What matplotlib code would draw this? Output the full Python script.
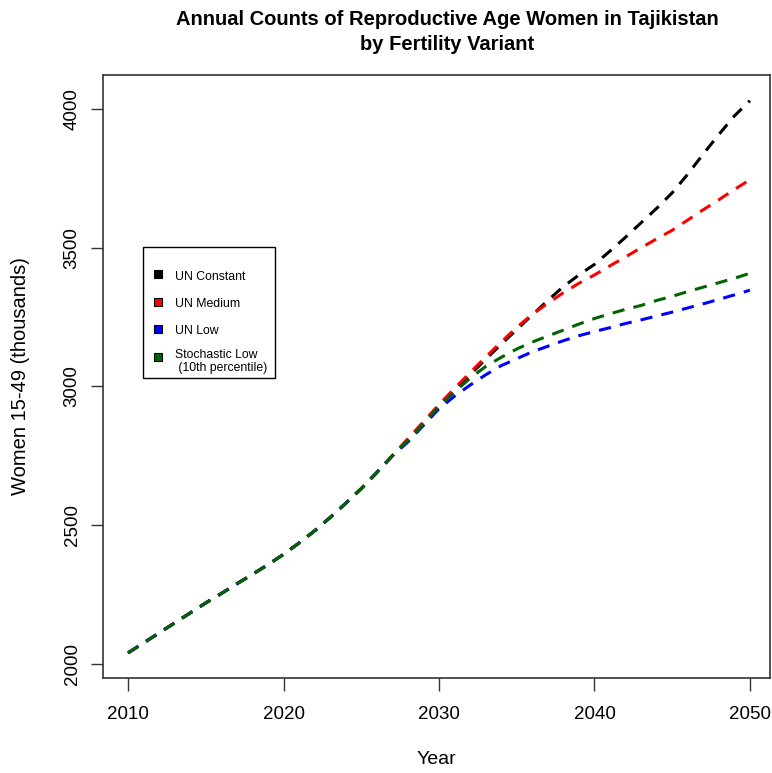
import matplotlib
matplotlib.use("Agg")
import matplotlib.pyplot as plt
from matplotlib.patches import Rectangle
import numpy as np

plt.rcParams['font.family'] = ['Liberation Sans', 'DejaVu Sans']

years = np.arange(2010, 2051)

# shared path 2010-2027
base = [2040, 2076, 2112, 2148, 2184, 2220, 2254, 2289, 2323, 2358,
        2395, 2436, 2480, 2528, 2579, 2632, 2690, 2750]

un_constant = base + [2808, 2868, 2928, 2985, 3042, 3098, 3152, 3205, 3258, 3310,
                      3360, 3402, 3440, 3488, 3538, 3590, 3642, 3698, 3765, 3838,
                      3908, 3975, 4030]
un_medium = base + [2812, 2873, 2935, 2993, 3050, 3106, 3160, 3213, 3260, 3300,
                    3338, 3372, 3402, 3435, 3467, 3500, 3532, 3563, 3600, 3637,
                    3673, 3710, 3745]
un_low = base + [2800, 2860, 2920, 2965, 3005, 3042, 3075, 3100, 3125, 3145,
                 3165, 3183, 3198, 3212, 3227, 3240, 3254, 3268, 3283, 3298,
                 3314, 3330, 3347]
stoch_low = base + [2805, 2866, 2928, 2980, 3030, 3072, 3105, 3135, 3160, 3182,
                    3203, 3225, 3245, 3262, 3278, 3292, 3310, 3325, 3342, 3358,
                    3374, 3390, 3408]

series = [un_constant, un_medium, un_low, stoch_low]
labels = ["UN Constant", "UN Medium", "UN Low", "Stochastic Low\n (10th percentile)"]
colors = ["black", "red", "blue", "darkgreen"]

W, H = 772, 773
AX_L, AX_R, AX_T, AX_B = 103, 770, 75, 678

fig = plt.figure(figsize=(W/100, H/100), dpi=100)
ax = fig.add_axes([AX_L/W, 1 - AX_B/H, (AX_R - AX_L)/W, (AX_B - AX_T)/H])

def afrac(px, py):
    # pixel position (from top-left of image) -> axes fraction
    return (px - AX_L)/(AX_R - AX_L), (AX_B - py)/(AX_B - AX_T)

for y, c in zip(series, colors):
    ax.plot(years, y, color=c, lw=2.2, dashes=(4, 3))

ax.set_xlim(2008.39, 2051.29)
ax.set_ylim(1949.5, 4122.5)
ax.set_xticks([2010, 2020, 2030, 2040, 2050])
ax.set_yticks([2000, 2500, 3000, 3500, 4000])
ax.tick_params(direction='out', length=9, width=1, labelsize=13.5, color='#333333')
ax.tick_params(axis='x', pad=11)
ax.tick_params(axis='y', pad=7)
for lab in ax.get_yticklabels():
    lab.set_rotation(90)
    lab.set_va('center')
for s in ax.spines.values():
    s.set_linewidth(1.2)
    s.set_color('#333333')

ax.set_xlabel("Year", fontsize=14)
ax.set_ylabel("Women 15-49 (thousands)", fontsize=14.5)
ax.xaxis.set_label_coords(*afrac(436, 760))
ax.yaxis.set_label_coords(*afrac(21, 376))
ax.xaxis.label.set_va('center')
ax.yaxis.label.set_va('center')

fig.text(447/W, 1 - 10/H, "Annual Counts of Reproductive Age Women in Tajikistan\nby Fertility Variant",
         ha='center', va='top', fontsize=14.5, fontweight='bold', linespacing=1.4)

# legend box, drawn by hand to match the base-R layout
x0, y0 = afrac(143, 378)
x1, y1 = afrac(275, 247)
ax.add_patch(Rectangle((x0, y0), x1 - x0, y1 - y0, transform=ax.transAxes,
                       fill=True, facecolor='white', edgecolor='black', lw=1.0, zorder=5))
marker_y = [274, 301.7, 329.3, 357.3]
text_y = [277, 304, 331, 361.5]
for c, lab, my, ty in zip(colors, labels, marker_y, text_y):
    mx, mya = afrac(158, my)
    ax.plot([mx], [mya], ls='none', marker='s', markersize=5.5, markerfacecolor=c,
            markeredgecolor='black', markeredgewidth=0.8, transform=ax.transAxes,
            zorder=6, clip_on=False)
    tx, tya = afrac(175, ty)
    ax.text(tx, tya, lab, transform=ax.transAxes, fontsize=8.8, ha='left', va='center',
            linespacing=1.05, zorder=6)

fig.savefig("out.png", dpi=100)
